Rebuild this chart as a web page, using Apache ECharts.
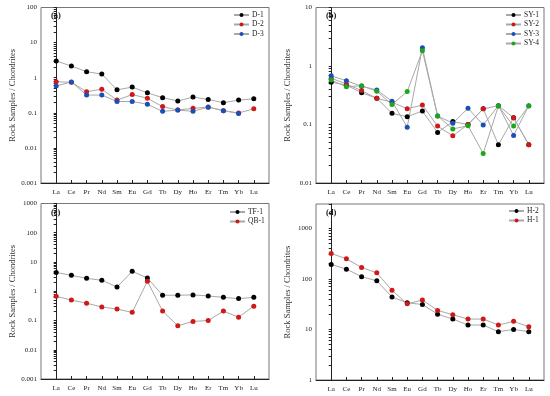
<!DOCTYPE html>
<html><head><meta charset="utf-8">
<script src="https://cdn.jsdelivr.net/npm/echarts@6/dist/echarts.min.js"></script>
<style>html,body{margin:0;padding:0;background:#fff}#c{width:550px;height:396px}</style>
</head><body><div id="c"></div>
<script>
const elements = ['La','Ce','Pr','Nd','Sm','Eu','Gd','Tb','Dy','Ho','Er','Tm','Yb','Lu'];

// Panel (a)
const D1 = [3.0, 2.15, 1.48, 1.27, 0.45, 0.54, 0.37, 0.27, 0.217, 0.28, 0.24, 0.194, 0.23, 0.25];
const D2 = [0.77, 0.74, 0.40, 0.47, 0.23, 0.33, 0.26, 0.15, 0.12, 0.134, 0.146, 0.115, 0.099, 0.13];
const D3 = [0.58, 0.76, 0.32, 0.32, 0.21, 0.21, 0.175, 0.11, 0.12, 0.11, 0.145, 0.115, 0.096, null];

// Panel (b)
const SY1 = [0.53, 0.47, 0.35, 0.28, 0.155, 0.136, 0.17, 0.073, 0.112, 0.1, 0.186, 0.045, 0.13, 0.045];
const SY2 = [0.62, 0.49, 0.38, 0.28, 0.24, 0.186, 0.215, 0.094, 0.064, 0.1, 0.185, 0.21, 0.13, 0.045];
const SY3 = [0.68, 0.56, 0.45, 0.39, 0.25, 0.09, 2.05, 0.14, 0.105, 0.19, 0.098, 0.21, 0.065, 0.21];
const SY4 = [0.575, 0.44, 0.46, 0.37, 0.22, 0.365, 1.83, 0.14, 0.084, 0.095, 0.032, 0.207, 0.094, 0.207];

// Panel (c)
const TF1 = [4.4, 3.5, 2.76, 2.37, 1.4, 4.8, 2.84, 0.73, 0.73, 0.75, 0.69, 0.62, 0.56, 0.62];
const QB1 = [0.67, 0.5, 0.39, 0.29, 0.245, 0.19, 2.2, 0.21, 0.066, 0.093, 0.1, 0.21, 0.13, 0.31];

// Panel (d)
const H2 = [192, 155, 110, 91, 43.5, 33.6, 31, 20, 16, 12.2, 12.2, 9, 10, 9];
const H1 = [316, 248, 167, 131, 59, 32, 38, 23.7, 19.5, 16, 16, 12.2, 14.4, 11.3];

const yTicksA = [0.001, 0.01, 0.1, 1, 10, 100];
const yTicksB = [0.01, 0.1, 1, 10];
const yTicksC = [0.001, 0.01, 0.1, 1, 10, 100, 1000];
const yTicksD = [1, 10, 100, 1000];

const FONT = 'Liberation Serif';
const COL = {black:'#000000', red:'#d01818', blue:'#1a4fb8', green:'#1aa81a'};

const grids = [
  {left:41, top:7.5, width:228, height:175.5},
  {left:316, top:7.5, width:228, height:175.5},
  {left:41, top:203.5, width:228, height:175.5},
  {left:316, top:204, width:228, height:176}
];
const yRanges = [[0.001,100],[0.01,10],[0.001,1000],[1,3000]];
const yTicks = [yTicksA, yTicksB, yTicksC, yTicksD];

function allTickVals(lo, hi){
  const out=[];
  for(let e=-4;e<=4;e++){
    for(let m=1;m<=9;m++){
      const v = +(m*Math.pow(10,e)).toPrecision(6);
      if(v>=lo && v<=hi) out.push(v);
    }
  }
  return out;
}

const idx = elements.map((_,i)=>i);
const xAxes = [], yAxes = [];
grids.forEach((g,i)=>{
  xAxes.push({
    type:'value', gridIndex:i, min:-1, max:14, interval:1,
    axisLine:{show:true, lineStyle:{color:'#222', width:1}},
    axisTick:{show:true, inside:true, length:3, customValues:idx, lineStyle:{color:'#222'}},
    axisLabel:{show:true, customValues:idx, margin:6, fontFamily:FONT, fontSize:7, color:'#222',
      formatter:(v)=>elements[Math.round(v)]||''},
    splitLine:{show:false}
  });
  yAxes.push({
    type:'log', logBase:10, gridIndex:i, min:yRanges[i][0], max:yRanges[i][1],
    name:'Rock Samples / Chondrites', nameLocation:'middle', nameGap:24,
    nameTextStyle:{fontFamily:FONT, fontSize:8.5, color:'#333'},
    axisLine:{show:true, lineStyle:{color:'#222', width:1}},
    axisTick:{show:true, inside:false, length:2.5, customValues:allTickVals(yRanges[i][0], yRanges[i][1]), lineStyle:{color:'#222'}},
    axisLabel:{show:true, customValues:yTicks[i], margin:4, fontFamily:FONT, fontSize:7, color:'#222',
      formatter:(v)=>String(v)},
    splitLine:{show:false}
  });
});

function mk(name, arr, color, gi){
  return {
    name, type:'line', xAxisIndex:gi, yAxisIndex:gi,
    data: arr.map((v,i)=> v==null ? null : [i, v]).filter(d=>d!==null),
    symbol:'circle', symbolSize:5,
    lineStyle:{color:'#a8a8a8', width:1},
    itemStyle:{color:color},
    emphasis:{disabled:true},
    animation:false, z:3
  };
}
const series = [
  mk('D-1', D1, COL.black, 0), mk('D-2', D2, COL.red, 0), mk('D-3', D3, COL.blue, 0),
  mk('SY-1', SY1, COL.black, 1), mk('SY-2', SY2, COL.red, 1), mk('SY-3', SY3, COL.blue, 1), mk('SY-4', SY4, COL.green, 1),
  mk('TF-1', TF1, COL.black, 2), mk('QB-1', QB1, COL.red, 2),
  mk('H-2', H2, COL.black, 3), mk('H-1', H1, COL.red, 3)
];

function lg(names, left, top){
  return {data:names, left, top, orient:'vertical', itemWidth:15, itemHeight:5, itemGap:1.5, padding:0,
    textStyle:{fontFamily:FONT, fontSize:7.5, color:'#222', padding:[0,0,0,-2]}, selectedMode:false, inactiveColor:'#ccc'};
}

const chart = echarts.init(document.getElementById('c'), null, {renderer:'canvas'});
chart.setOption({
  animation:false,
  backgroundColor:'#fff',
  grid: grids.map(g=>Object.assign({show:true, borderColor:'#777', borderWidth:1, containLabel:false}, g)),
  xAxis: xAxes,
  yAxis: yAxes,
  legend: [
    lg(['D-1','D-2','D-3'], 233, 11),
    lg(['SY-1','SY-2','SY-3','SY-4'], 505, 11),
    lg(['TF-1','QB-1'], 229, 208),
    lg(['H-2','H-1'], 508, 207)
  ],
  title: [
    {text:'(a)', left:51, top:11},
    {text:'(b)', left:326, top:11},
    {text:'(c)', left:51, top:208},
    {text:'(d)', left:326, top:208}
  ].map(t=>Object.assign(t,{padding:0, textStyle:{fontFamily:FONT, fontSize:8.5, fontWeight:'bold', color:'#111'}})),
  series
});
</script></body></html>
